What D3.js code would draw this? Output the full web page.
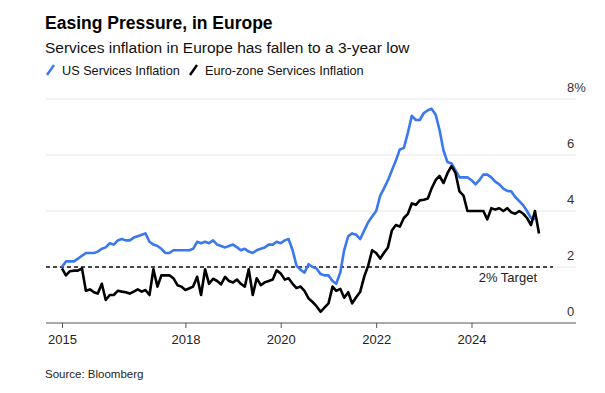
<!DOCTYPE html>
<html>
<head>
<meta charset="utf-8">
<script src="https://cdn.jsdelivr.net/npm/d3@7"></script>
<style>
  body { margin: 0; background: #fff; }
  text { font-family: "Liberation Sans", Arial, sans-serif; }
</style>
</head>
<body>
<div id="chart"></div>
<script>
// monthly readings, first point = May 2015 (plotted at month end)
const usServices = [
  2.0, 2.2, 2.2, 2.2, 2.3, 2.4, 2.5, 2.5, 2.5, 2.55, 2.65, 2.7,
  2.85, 2.8, 2.95, 3.0, 2.95, 2.95, 3.05, 3.1, 3.15, 3.2, 2.9, 2.8,
  2.75, 2.65, 2.5, 2.5, 2.6, 2.6, 2.6, 2.6, 2.6, 2.65, 2.9, 2.85,
  2.9, 2.85, 2.95, 2.8, 2.75, 2.7, 2.75, 2.8, 2.7, 2.6, 2.65, 2.55,
  2.5, 2.6, 2.65, 2.7, 2.8, 2.8, 2.9, 2.85, 2.95, 3.0, 2.6, 2.05,
  1.9, 1.8, 2.1, 2.0, 1.95, 1.75, 1.7, 1.7, 1.5, 1.4, 1.8, 2.6,
  3.1, 3.2, 3.15, 3.0, 3.3, 3.6, 3.8, 4.0, 4.55, 4.8, 5.1, 5.45,
  5.8, 6.2, 6.25, 6.8, 7.4, 7.25, 7.25, 7.5, 7.6, 7.65, 7.45, 6.9,
  6.15, 5.75, 5.7, 5.45, 5.2, 5.2, 5.2, 5.1, 4.95, 5.1, 5.3, 5.3,
  5.2, 5.05, 4.95, 4.8, 4.72, 4.7, 4.5, 4.35, 4.2, 4.0, 3.75, 3.7
];
const euroServices = [
  1.95, 1.7, 1.85, 1.87, 1.87, 1.95, 1.15, 1.2, 1.1, 1.05, 1.4, 0.82,
  1.0, 1.0, 1.15, 1.12, 1.1, 1.05, 1.12, 1.2, 1.12, 1.18, 1.0, 1.92,
  1.3, 1.7, 1.7, 1.7, 1.6, 1.35, 1.3, 1.18, 1.24, 1.3, 1.65, 1.0,
  1.92, 1.4, 1.58, 1.5, 1.38, 1.65, 1.5, 1.45, 1.55, 1.4, 1.3, 1.92,
  1.0, 1.6, 1.35, 1.45, 1.5, 1.55, 1.88, 1.77, 1.55, 1.6, 1.4, 1.25,
  1.3, 1.15, 0.88, 0.75, 0.6, 0.4, 0.55, 0.7, 1.3, 1.15, 1.22, 0.9,
  1.1, 0.7, 0.92, 1.12, 1.65, 2.05, 2.6, 2.5, 2.3, 2.5, 2.7, 3.3,
  3.5, 3.44, 3.75, 3.9, 4.27, 4.22, 4.38, 4.4, 4.45, 4.8, 5.1, 5.25,
  5.0, 5.35, 5.6, 5.35, 4.7, 4.55, 4.0, 4.0, 4.0, 4.0, 4.0, 3.7,
  4.1, 4.05, 4.1, 4.0, 4.1, 3.95, 3.9, 4.0, 3.9, 3.75, 3.5, 4.0,
  3.2
];
const yTicks = [0, 2, 4, 6, 8];
const xTickYears = [2018, 2020, 2022, 2024];
const target = 2;

const width = 605, height = 393;
const blue = "#3a78ee";

const svg = d3.select("#chart").append("svg")
  .attr("width", width)
  .attr("height", height);

// month i -> first day of the following month (month-end point)
const monthDate = i => new Date(2015, 5 + i, 1);

const x = d3.scaleTime()
  .domain([monthDate(0), monthDate(120)])
  .range([62, 539]);

const y = d3.scaleLinear()
  .domain([0, 8])
  .range([323, 99]);

// gridlines + right labels
svg.selectAll(".grid")
  .data(yTicks.filter(d => d > 0))
  .enter().append("line")
  .attr("x1", 46).attr("x2", 576)
  .attr("y1", d => y(d)).attr("y2", d => y(d))
  .attr("stroke", "#e6e6e6")
  .attr("stroke-width", 1);

svg.selectAll(".ylab")
  .data(yTicks)
  .enter().append("text")
  .attr("x", 567)
  .attr("y", d => y(d) - 7)
  .attr("font-size", 13)
  .attr("fill", "#333")
  .text(d => d === 8 ? "8%" : d);

// x axis
const xAxis = d3.axisBottom(x)
  .tickValues([monthDate(0), ...xTickYears.map(yr => new Date(yr, 0, 1))])
  .tickFormat(d => d.getFullYear())
  .tickSize(5)
  .tickSizeOuter(0);

const gx = svg.append("g")
  .attr("transform", `translate(0,${y(0)})`)
  .call(xAxis);
gx.select(".domain").remove();
gx.append("line")
  .attr("x1", 46).attr("x2", 576)
  .attr("stroke", "#555").attr("stroke-width", 1);
gx.selectAll(".tick line").attr("stroke", "#555");
gx.selectAll(".tick text")
  .attr("y", 12)
  .attr("font-size", 13)
  .attr("fill", "#222")
  .style("font-family", "Liberation Sans, Arial, sans-serif");

// 2% target
svg.append("line")
  .attr("x1", 46).attr("x2", 553)
  .attr("y1", y(target)).attr("y2", y(target))
  .attr("stroke", "#111")
  .attr("stroke-width", 1.3)
  .attr("stroke-dasharray", "4,3");

svg.append("text")
  .attr("x", 537).attr("y", y(target) + 15)
  .attr("text-anchor", "end")
  .attr("font-size", 13)
  .attr("fill", "#222")
  .text("2% Target");

// lines
const line = d3.line()
  .x((d, i) => x(monthDate(i)))
  .y(d => y(d));

svg.append("path")
  .datum(usServices)
  .attr("d", line)
  .attr("fill", "none")
  .attr("stroke", blue)
  .attr("stroke-width", 2.6)
  .attr("stroke-linejoin", "round");

svg.append("path")
  .datum(euroServices)
  .attr("d", line)
  .attr("fill", "none")
  .attr("stroke", "#000")
  .attr("stroke-width", 2.6)
  .attr("stroke-linejoin", "round");

// titles
svg.append("text")
  .attr("x", 45).attr("y", 29)
  .attr("font-size", 17.5)
  .attr("font-weight", "bold")
  .attr("fill", "#000")
  .text("Easing Pressure, in Europe");

svg.append("text")
  .attr("x", 45).attr("y", 53)
  .attr("font-size", 15.5)
  .attr("fill", "#111")
  .text("Services inflation in Europe has fallen to a 3-year low");

// legend
const legend = [
  { label: "US Services Inflation", color: blue, x: 47 },
  { label: "Euro-zone Services Inflation", color: "#000", x: 190 }
];
const lg = svg.selectAll(".legend")
  .data(legend)
  .enter().append("g")
  .attr("transform", d => `translate(${d.x},70)`);
lg.append("line")
  .attr("x1", 0).attr("y1", 5)
  .attr("x2", 7).attr("y2", -5)
  .attr("stroke", d => d.color)
  .attr("stroke-width", 2.4);
lg.append("text")
  .attr("x", 15).attr("y", 5)
  .attr("font-size", 12.7)
  .attr("fill", "#111")
  .text(d => d.label);

svg.append("text")
  .attr("x", 45).attr("y", 378)
  .attr("font-size", 11.5)
  .attr("fill", "#222")
  .text("Source: Bloomberg");
</script>
</body>
</html>
